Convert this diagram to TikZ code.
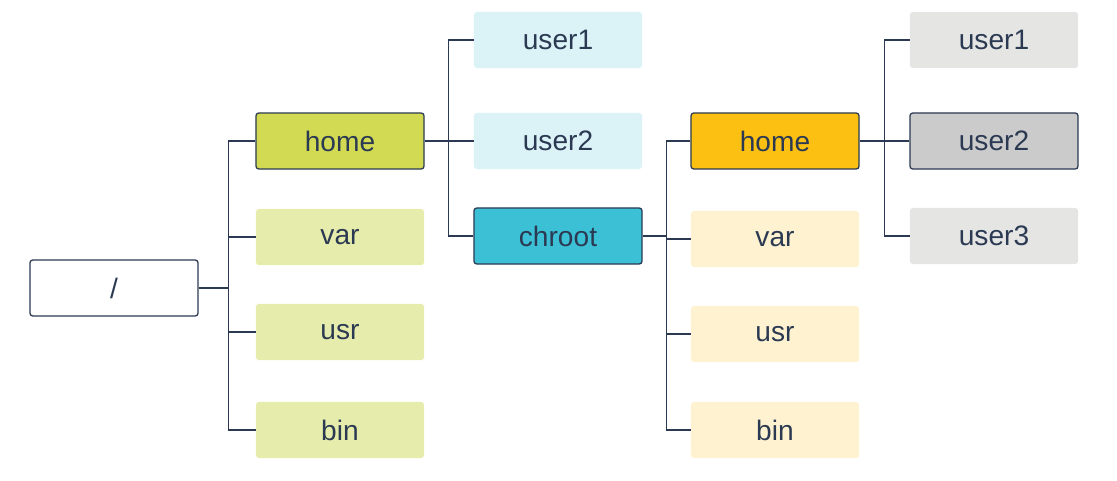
\documentclass[tikz,border=0pt]{standalone}
\usepackage{fontspec}
\setmainfont{Liberation Sans}
\usepackage{tikz}
\usetikzlibrary{positioning}

\definecolor{navy}{HTML}{2B3A52}
\definecolor{lime}{HTML}{D1DA52}
\definecolor{limelight}{HTML}{E6ECAB}
\definecolor{cyanlight}{HTML}{DBF2F7}
\definecolor{cyandark}{HTML}{3BC0D6}
\definecolor{amber}{HTML}{FCC012}
\definecolor{amberlight}{HTML}{FEF2D0}
\definecolor{greylight}{HTML}{E5E5E4}
\definecolor{greymid}{HTML}{CBCBCB}

\begin{document}
\begin{tikzpicture}[x=0.025cm, y=-0.025cm,
  dir/.style={rectangle, rounded corners=2pt, minimum width=4.2cm, minimum height=1.4cm,
    inner sep=0pt, text=navy, font=\fontsize{20}{24}\selectfont},
  sel/.style={dir, draw=navy, line width=0.9pt},
  conn/.style={draw=navy, line width=0.9pt}]
  \useasboundingbox (0,0) rectangle (1117,480);

  % left tree
  \node [sel, fill=white] (root) at (114,288) {/};
  \node [sel, fill=lime] (home) at (340,141) {home};
  \node [dir, fill=limelight] (var) at (340,237) {var};
  \node [dir, fill=limelight] (usr) at (340,332) {usr};
  \node [dir, fill=limelight] (bin) at (340,430) {bin};

  \node [dir, fill=cyanlight] (userA) at (558,40) {user1};
  \node [dir, fill=cyanlight] (userB) at (558,141) {user2};
  \node [sel, fill=cyandark] (chroot) at (558,236) {chroot};

  % chroot tree
  \node [sel, fill=amber] (chome) at (775,141) {home};
  \node [dir, fill=amberlight] (cvar) at (775,239) {var};
  \node [dir, fill=amberlight] (cusr) at (775,334) {usr};
  \node [dir, fill=amberlight] (cbin) at (775,430) {bin};

  \node [dir, fill=greylight] (cuserA) at (994,40) {user1};
  \node [sel, fill=greymid] (cuserB) at (994,141) {user2};
  \node [dir, fill=greylight] (cuserC) at (994,236) {user3};

  % connectors
  \foreach \c in {home,var,usr,bin}
    \draw [conn] (root.east) -- ++(30,0) |- (\c.west);
  \foreach \c in {userA,userB,chroot}
    \draw [conn] (home.east) -- ++(24,0) |- (\c.west);
  \foreach \c in {chome,cvar,cusr,cbin}
    \draw [conn] (chroot.east) -- ++(24,0) |- (\c.west);
  \foreach \c in {cuserA,cuserB,cuserC}
    \draw [conn] (chome.east) -- ++(25,0) |- (\c.west);
\end{tikzpicture}
\end{document}
